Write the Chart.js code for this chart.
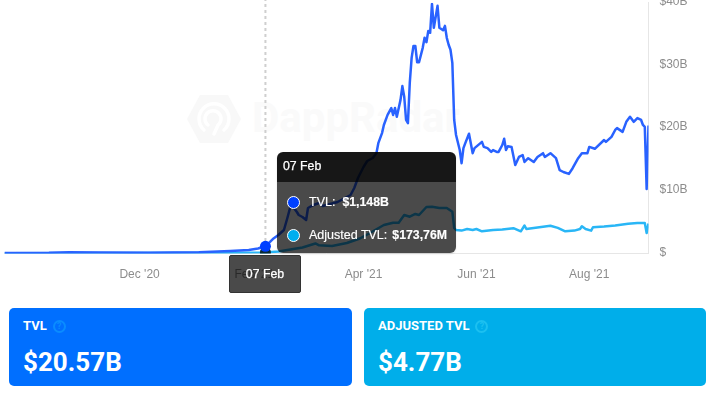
<!DOCTYPE html>
<html>
<head>
<meta charset="utf-8">
<title>TVL</title>
<script src="https://cdn.jsdelivr.net/npm/chart.js@4"></script>
<style>
html, body { margin: 0; padding: 0; background: #fff; }
body { width: 718px; height: 395px; overflow: hidden; position: relative; font-family: "Liberation Sans", Arial, sans-serif; }
#chart { position: absolute; left: 0; top: -20px; z-index: 2; }
#mark { position: absolute; left: 187px; top: 95px; width: 54px; height: 48px; z-index: 1; }
#mark-text { position: absolute; left: 252px; top: 93px; font: 700 42px Roboto, sans-serif; line-height: 50px; color: #fafafa; z-index: 1; white-space: nowrap; }
#tip { position: absolute; left: 277px; top: 152px; width: 179px; height: 101px; border-radius: 6px; overflow: hidden; z-index: 3; color: #fff; font-size: 12.5px; box-shadow: 0 1px 2px rgba(0,0,0,.12); }
#tip-head { height: 30px; line-height: 29px; padding-left: 6px; background: rgba(0,0,0,.91); font-size: 12.3px; -webkit-text-stroke: .25px #fff; }
#tip-body { height: 71px; background: rgba(0,0,0,.71); position: relative; }
.row { position: absolute; left: 32px; white-space: nowrap; line-height: 14px; -webkit-text-stroke: .15px #fff; }
.row b { font-size: 12.3px; }
.dot { position: absolute; left: 10px; width: 11px; height: 11px; border-radius: 50%; border: 1px solid #fff; }
#xtag { position: absolute; left: 229px; top: 255px; width: 70px; height: 36px; line-height: 36px; text-align: center; background: rgba(0,0,0,.71); border: 1px solid #333; border-radius: 2px; color: #fff; font-size: 12.3px; -webkit-text-stroke: .25px #fff; z-index: 3; }
.card { position: absolute; top: 308px; height: 78px; border-radius: 5px; color: #fff; font-family: Roboto, sans-serif; font-weight: 700; }
.card .name { position: absolute; left: 14px; top: 10px; font-size: 13px; line-height: 15px; white-space: nowrap; }
.card .q { display: inline-block; width: 9px; height: 9px; line-height: 9px; border: 2px solid; border-radius: 50%; font-size: 9px; text-align: center; margin-left: 6px; vertical-align: 1px; }
.card .val { position: absolute; left: 14px; top: 38px; font-size: 26px; line-height: 33px; white-space: nowrap; }
#card1 { left: 9px; width: 343px; background: #006fff; }
#card1 .q { color: #0a8cff; }
#card2 { left: 364px; width: 342px; background: #00aeea; }
#card2 .q { color: #1cc0f0; }
</style>
</head>
<body>
<svg id="mark" viewBox="0 0 54 48">
  <path d="M0 24 L13 0 H41 L54 24 L41 48 H13 Z" fill="#f8f8f8"/>
  <path d="M17 35 A15 15 0 1 1 37 35" fill="none" stroke="#fff" stroke-width="3.5" stroke-linecap="round"/>
  <path d="M21 30 A8 8 0 1 1 31 30 L27 39" fill="none" stroke="#fff" stroke-width="3.5" stroke-linecap="round"/>
</svg>
<div id="mark-text">DappRadar</div>
<canvas id="chart" width="718" height="320"></canvas>
<div id="tip">
  <div id="tip-head"></div>
  <div id="tip-body">
    <span class="dot" style="top:14px;background:#0040ff"></span>
    <div class="row" style="top:13px"><span id="name1"></span><b id="value1" style="margin-left:7px"></b></div>
    <span class="dot" style="top:47px;background:#00aeef"></span>
    <div class="row" style="top:46px"><span id="name2"></span><b id="value2" style="margin-left:5px"></b></div>
  </div>
</div>
<div id="xtag"></div>
<div class="card" id="card1"><div class="name">TVL<span class="q">?</span></div><div class="val" id="total1"></div></div>
<div class="card" id="card2"><div class="name">ADJUSTED TVL<span class="q">?</span></div><div class="val" id="total2"></div></div>

<script>
// days counted from 19 Sep 2020, values in $B
const tvlDays = [0,24,35,51,78,105,122,132,137,141,145,148,151,153,155,156,158,159,161,163,164,167,170,172,176,180,184,187,189,191,194,196,199,201,202,204,205,207,209,210,211,212,214,215,216,217,218,219,220,221,222,223,224,226,227,228,229,230,231,232,234,235,237,238,239,240,241,242,243,244,246,247,248,249,251,253,254,258,259,261,263,264,266,267,269,270,271,272,274,276,278,280,281,283,286,288,291,292,295,298,300,302,305,307,310,312,315,316,319,324,325,328,330,331,334,336,338,340,342,344,345,346,347,348];
const tvlValues = [0.08,0.11,0.2,0.14,0.11,0.2,0.4,0.56,0.8,1.148,2.31,2.95,3.75,5.82,8.05,7.42,6.62,6.14,5.82,5.34,7.26,7.74,8.05,7.58,7.89,8.21,8.85,9.33,10.45,12.04,13.8,14.75,15.23,16.03,17.6,19.2,20.5,22.1,23.2,22.1,23.2,21.8,24.5,26.7,25.0,21.3,20.8,27.2,31.2,33.1,33.1,30.5,30.5,32.8,34.4,33.7,35.5,35.2,39.8,36.0,39.5,36.0,35.6,36.3,34.4,33.3,32.5,30.4,21.3,18.9,16.5,14.4,16.8,17.6,19.1,16.0,16.8,17.8,17.0,16.8,16.2,16.5,16.2,16.2,17.3,18.3,16.5,17.1,17.0,14.1,15.4,15.7,14.6,15.2,14.6,15.4,16.0,15.4,16.0,15.2,13.3,13.0,12.7,13.6,15.2,16.0,16.0,17.0,16.7,18.1,17.8,18.6,19.7,20.0,19.4,21.0,21.8,21.0,21.6,21.3,20.5,20.2,10.3,20.4];
const adjustedDays = [0,60,120,141,148,161,168,170,177,185,192,197,205,210,213,216,219,222,224,228,231,235,239,242,243,244,247,250,253,255,258,264,269,275,279,281,282,289,295,299,303,308,311,312,314,317,318,324,330,337,342,346,347,348];
const adjustedValues = [0.05,0.08,0.11,0.174,0.32,0.96,1.6,1.31,1.2,1.67,2.39,3.19,4.55,4.91,4.91,6.14,5.87,6.3,6.14,7.42,7.46,7.26,7.26,6.67,4.07,3.75,3.65,3.91,3.75,3.91,3.54,3.75,3.81,4.04,3.54,4.47,3.91,4.19,4.42,4.08,3.54,3.65,3.91,4.35,3.91,3.65,4.19,4.31,4.47,4.75,4.86,4.86,3.27,4.77];

const xTickDays = [73,135,194,255,316];
const xTickLabels = ["Dec '20","Feb '21","Apr '21","Jun '21","Aug '21"];
const yTickValues = [0,10,20,30,40];
const yTickLabels = ['$','$10B','$20B','$30B','$40B'];

const hoverDay = 141;
const hoverLabel = '07 Feb';
const seriesNames = ['TVL:','Adjusted TVL:'];
const hoverTexts = ['$1,148B','$173,76M'];
const totals = ['$20.57B','$4.77B'];

document.getElementById('tip-head').textContent = hoverLabel;
document.getElementById('xtag').textContent = hoverLabel;
document.getElementById('name1').textContent = seriesNames[0];
document.getElementById('name2').textContent = seriesNames[1];
document.getElementById('value1').textContent = hoverTexts[0];
document.getElementById('value2').textContent = hoverTexts[1];
document.getElementById('total1').textContent = totals[0];
document.getElementById('total2').textContent = totals[1];

function toPoints(days, values) {
    return days.map((d, i) => ({ x: d, y: values[i] }));
}

function hoverRadius(ctx) {
    return ctx.raw && ctx.raw.x === hoverDay ? 5.5 : 0;
}

// dashed line from the top of the plot down to the hovered day
const crosshair = {
    id: 'crosshair',
    beforeDatasetsDraw(chart) {
        const x = chart.scales.x.getPixelForValue(hoverDay);
        const y = chart.scales.y.getPixelForValue(tvlValues[tvlDays.indexOf(hoverDay)]);
        const c = chart.ctx;
        c.save();
        c.strokeStyle = '#cfcfcf';
        c.lineWidth = 2;
        c.setLineDash([3, 3]);
        c.beginPath();
        c.moveTo(x, 0);
        c.lineTo(x, y);
        c.stroke();
        c.restore();
    }
};

// first dataset is painted last, so TVL stays on top
new Chart(document.getElementById('chart'), {
    type: 'line',
    data: {
        datasets: [
            {
                label: 'TVL',
                data: toPoints(tvlDays, tvlValues),
                borderColor: '#2962ff',
                backgroundColor: '#0040ff',
                borderWidth: 2.5,
                borderJoinStyle: 'round',
                pointRadius: hoverRadius,
                pointBorderColor: '#0040ff',
                pointBorderWidth: 0,
                tension: 0
            },
            {
                label: 'Adjusted TVL',
                data: toPoints(adjustedDays, adjustedValues),
                borderColor: '#29b6f6',
                backgroundColor: '#0a2a35',
                borderWidth: 2.5,
                borderJoinStyle: 'round',
                pointRadius: hoverRadius,
                pointBorderColor: '#0a2a35',
                pointBorderWidth: 0,
                tension: 0
            }
        ]
    },
    options: {
        responsive: false,
        animation: false,
        events: [],
        layout: { padding: { left: 4.5, top: 22.7, right: 0, bottom: 0 } },
        plugins: { legend: { display: false }, tooltip: { enabled: false } },
        scales: {
            x: {
                type: 'linear',
                min: 0,
                max: 348,
                grid: { display: false, drawTicks: false },
                border: { color: '#e6e6e6', width: 1 },
                afterBuildTicks(scale) { scale.ticks = xTickDays.map(v => ({ value: v })); },
                afterFit(scale) { scale.height = 46.5; },
                ticks: {
                    autoSkip: false,
                    maxRotation: 0,
                    padding: 14,
                    color: '#8c8c8c',
                    font: { family: '"Liberation Sans", Arial, sans-serif', size: 12 },
                    callback: v => xTickLabels[xTickDays.indexOf(v)]
                }
            },
            y: {
                position: 'right',
                min: 0,
                max: 40,
                grid: { display: false, drawTicks: false },
                border: { color: '#e6e6e6', width: 1 },
                afterBuildTicks(scale) { scale.ticks = yTickValues.map(v => ({ value: v })); },
                afterFit(scale) { scale.width = 69.5; },
                ticks: {
                    autoSkip: false,
                    padding: 11,
                    labelOffset: -1,
                    color: '#8c8c8c',
                    font: { family: '"Liberation Sans", Arial, sans-serif', size: 12 },
                    callback: v => yTickLabels[yTickValues.indexOf(v)]
                }
            }
        }
    },
    plugins: [crosshair]
});
</script>
</body>
</html>
